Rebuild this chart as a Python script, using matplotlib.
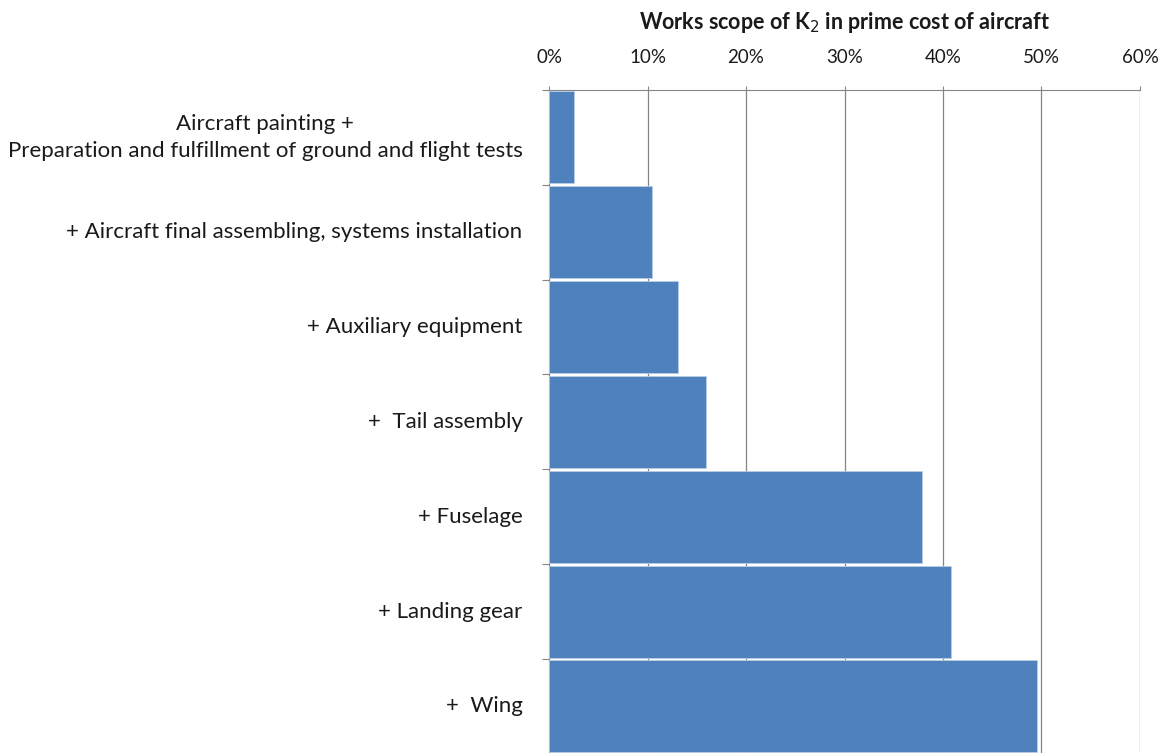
import matplotlib.pyplot as plt
from matplotlib.ticker import PercentFormatter

# cumulative works scope, top row first
stages = ['Aircraft painting +\nPreparation and fulfillment of ground and flight tests',
          '+ Aircraft final assembling, systems installation',
          '+ Auxiliary equipment',
          '+  Tail assembly',
          '+ Fuselage',
          '+ Landing gear',
          '+  Wing']
share = [2.5, 10.5, 13.1, 15.9, 37.9, 40.8, 49.5]
xticks = [0, 10, 20, 30, 40, 50, 60]

plt.rcParams['font.family'] = ['Lato', 'DejaVu Sans']

fig = plt.figure(figsize=(11.61, 7.53), dpi=100)
ax = fig.add_axes([0.4729, -0.001, 0.5090, 0.8815])

pos = list(range(len(stages)))
ax.barh(pos, share, height=0.97, color='#4F81BD', edgecolor='#b9cde5',
        linewidth=0.6, zorder=3)

ax.set_ylim(len(stages) - 0.5, -0.5)
ax.set_xlim(0, 60)
ax.set_xticks(xticks)
ax.xaxis.set_major_formatter(PercentFormatter(decimals=0))
ax.xaxis.tick_top()
ax.tick_params(axis='x', length=3, color='#868686', labelsize=13.5, pad=14,
               labelcolor='#1a1a1a')
ax.grid(axis='x', color='#868686', linewidth=0.9, zorder=0)

ax.set_yticks([p - 0.5 for p in pos] + [len(stages) - 0.5], labels=[''] * (len(stages) + 1))
ax.tick_params(axis='y', length=5, color='#868686')
for p, name in zip(pos, stages):
    ax.text(-0.045, p, name, transform=ax.get_yaxis_transform(), ha='right',
            va='center', multialignment='center', fontsize=16, linespacing=1.4,
            color='#1a1a1a')

for side in ['right', 'bottom']:
    ax.spines[side].set_visible(False)
for side in ['top', 'left']:
    ax.spines[side].set_color('#868686')

ax.set_title('Works scope of K$_2$ in prime cost of aircraft', fontsize=15.5,
             fontweight='bold', pad=44, color='#1a1a1a')

fig.savefig('out.png', dpi=100)
